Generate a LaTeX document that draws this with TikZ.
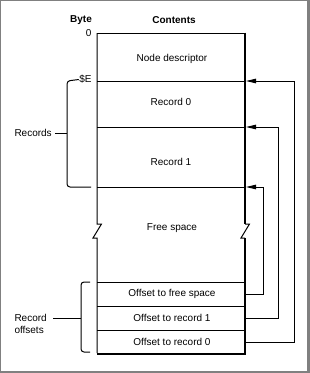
\documentclass[tikz,border=0pt]{standalone}
\usepackage{fontspec}
\setmainfont{Liberation Sans}
\usetikzlibrary{arrows.meta}
\begin{document}
\begin{tikzpicture}[x=1pt,y=-1pt,line width=1pt,
  lbl/.style={font=\fontsize{10}{11.5}\selectfont,inner sep=0pt},
  hdr/.style={font=\fontsize{10}{11.5}\selectfont\bfseries,inner sep=0pt},
  conn/.style={-{Triangle[length=10pt,width=4.5pt]},line width=1pt},
  bracepath/.style={rounded corners=3pt,line width=1pt},
  thick edge/.style={line width=2pt}]
\useasboundingbox (0,0) rectangle (310,373);
% frame
\fill[black!50] (0,0) rectangle (310,373);
\fill[white] (1,1) rectangle (306.5,370.5);
% box outline
\draw (97,33) -- (245,33);
\draw (97,33) -- (97,224) -- (101.5,224) -- (93,238) -- (97,238) -- (97,353);
\draw[thick edge] (245,32.5) -- (245,224);
\draw (245,224) -- (249.5,224) -- (241,238) -- (245,238);
\draw[thick edge] (245,238) -- (245,354) -- (97,354);
% dividers
\foreach \yy in {81,127,187,282,306,330} \draw (97,\yy) -- (245,\yy);
% headers
\node[hdr] (byte) at (81,20) {Byte};
\node[hdr] (contents) at (174,20) {Contents};
\node[lbl,anchor=east] (b0) at (92,33.5) {0};
\node[lbl,anchor=east] (bE) at (92,79.5) {\$E};
% contents
\node[lbl] (nd) at (172,58.5) {Node descriptor};
\node[lbl] (rec0) at (171,102) {Record 0};
\node[lbl] (rec1) at (171,161.5) {Record 1};
\node[lbl] (free) at (172,228) {Free space};
\node[lbl] (offfree) at (172,294) {Offset to free space};
\node[lbl] (off1) at (172,318) {Offset to record 1};
\node[lbl] (off0) at (172,342) {Offset to record 0};
% left labels
\node[lbl,anchor=west] (records) at (14,133) {Records};
\node[lbl,anchor=west,align=left] (recoffs) at (14,324) {Record\\offsets};
% braces
\draw[bracepath] (bE.west) -- (67,81) -- (67,187) -- (91,187);
\draw (records.east) ++(3,0) -- (67,133);
\draw[bracepath] (90,282) -- (81,282) -- (81,352) -- (90,352);
\draw (recoffs.east) ++(6,-6) coordinate (rotick) -- (81,318);
% connector end points
\coordinate (s0) at (246,342);
\coordinate (s1) at (246,318);
\coordinate (sf) at (246,294);
\coordinate (t0) at (246,81);
\coordinate (t1) at (246,127);
\coordinate (tf) at (246,187);
\draw[conn] (s0) -- ++(48,0) |- (t0);
\draw[conn] (s1) -- ++(32,0) |- (t1);
\draw[conn] (sf) -- ++(17,0) |- (tf);
\end{tikzpicture}
\end{document}
